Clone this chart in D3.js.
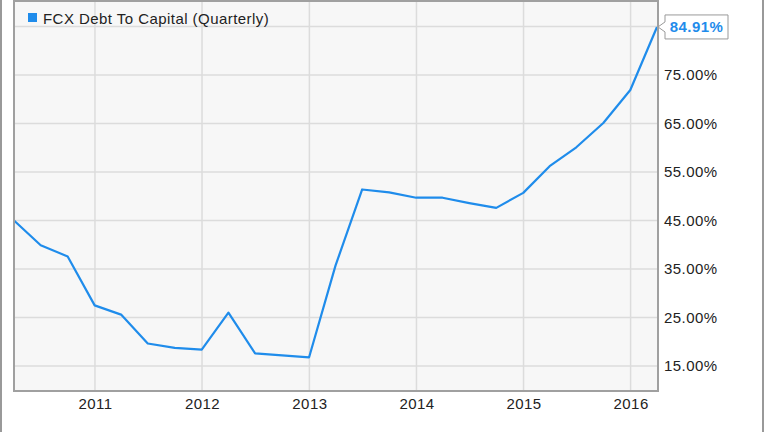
<!DOCTYPE html>
<html><head><meta charset="utf-8">
<script src="https://cdn.jsdelivr.net/npm/d3@7"></script>
<style>html,body{margin:0;padding:0;background:#fff;}svg{display:block;font-family:"Liberation Sans",Arial,sans-serif;}text{letter-spacing:0.45px;}</style>
</head><body>
<svg id="c" width="764" height="432"></svg>
<script>
const seriesName = "FCX Debt To Capital (Quarterly)";
const dates = ["2010-03-31","2010-06-30","2010-09-30","2010-12-31",
  "2011-03-31","2011-06-30","2011-09-30","2011-12-31",
  "2012-03-31","2012-06-30","2012-09-30","2012-12-31",
  "2013-03-31","2013-06-30","2013-09-30","2013-12-31",
  "2014-03-31","2014-06-30","2014-09-30","2014-12-31",
  "2015-03-31","2015-06-30","2015-09-30","2015-12-31",
  "2016-03-31"];
const values = [45.0,39.9,37.6,27.5,25.6,19.65,18.75,18.4,26.0,17.6,17.2,16.8,35.7,51.4,50.8,49.7,49.7,48.6,47.6,50.7,56.2,60.1,65.1,71.9,84.91];
const yTicks = [15,25,35,45,55,65,75];
const yGrid = [15,25,35,45,55,65,75,85];
const xTickYears = [2011,2012,2013,2014,2015,2016];

const svg = d3.select("#c");
const parse = d3.timeParse("%Y-%m-%d");
const data = dates.map((d,i)=>({date:parse(d), v:values[i]}));
const L=14, R=658, T=1, B=391;
const x = d3.scaleTime().domain([data[0].date, data[data.length-1].date]).range([L, 657]);
const y = d3.scaleLinear().domain([9.85, 90.26]).range([B, T]);

// outer frame
svg.append("line").attr("x1",1).attr("x2",1).attr("y1",0).attr("y2",432).attr("stroke","#999").attr("stroke-width",2);
svg.append("line").attr("x1",763).attr("x2",763).attr("y1",0).attr("y2",432).attr("stroke","#999").attr("stroke-width",2);

// plot bg
svg.append("rect").attr("x",L).attr("y",T).attr("width",R-L).attr("height",B-T).attr("fill","#f7f7f7");

// grid
const g = svg.append("g");
g.selectAll(".hg").data(yGrid).join("line")
  .attr("x1",L).attr("x2",R).attr("y1",d=>y(d)).attr("y2",d=>y(d))
  .attr("stroke","#dcdcdc").attr("stroke-width",1.5);
g.selectAll(".vg").data(xTickYears).join("line")
  .attr("x1",d=>x(new Date(d,0,1))).attr("x2",d=>x(new Date(d,0,1))).attr("y1",T).attr("y2",B)
  .attr("stroke","#dcdcdc").attr("stroke-width",1.5);

// legend
svg.append("rect").attr("x",28).attr("y",13).attr("width",9).attr("height",9).attr("fill","#1f8ceb");
svg.append("text").attr("x",43).attr("y",23.5).attr("font-size",15).attr("fill","#222").text(seriesName);

// line
svg.append("path").datum(data)
  .attr("d", d3.line().x(d=>x(d.date)).y(d=>y(d.v)))
  .attr("fill","none").attr("stroke","#1f8ceb").attr("stroke-width",2.2).attr("stroke-linejoin","round");

// border
svg.append("path").attr("d",`M${L},${T}H${R}V${B}H${L}Z`).attr("fill","none").attr("stroke","#a0a0a0").attr("stroke-width",2);

// y axis labels
const yAxis = d3.axisRight(y).tickValues(yTicks).tickSize(0).tickPadding(0).tickFormat(d=>d3.format(".2f")(d)+"%");
const ya = svg.append("g").attr("transform",`translate(664,0)`).call(yAxis);
ya.select(".domain").remove();
ya.selectAll("text").attr("font-size",15).attr("fill","#222").attr("font-family","'Liberation Sans',Arial,sans-serif");

// x axis labels
const xAxis = d3.axisBottom(x).tickValues(xTickYears.map(yv=>new Date(yv,0,1))).tickSize(0).tickPadding(0).tickFormat(d3.timeFormat("%Y"));
const xa = svg.append("g").attr("transform",`translate(0,398)`).call(xAxis);
xa.select(".domain").remove();
xa.selectAll("text").attr("font-size",15).attr("fill","#222").attr("font-family","'Liberation Sans',Arial,sans-serif");

// end label
const last = data[data.length-1];
const lx = x(last.date)+1, ly = y(last.v);
const bx = 665, bw = 63, bt = ly-12, bb = ly+12;
svg.append("path")
  .attr("d",`M${lx},${ly} L${bx},${ly-5} V${bt} H${bx+bw} V${bb} H${bx} V${ly+5} Z`)
  .attr("fill","#fff").attr("stroke","#999").attr("stroke-width",1);
svg.append("text").attr("x",bx+bw/2).attr("y",ly+5.5).attr("text-anchor","middle")
  .attr("font-size",15).attr("font-weight","bold").attr("fill","#1f8ceb").text(d3.format(".2f")(last.v)+"%");
</script>
</body></html>
